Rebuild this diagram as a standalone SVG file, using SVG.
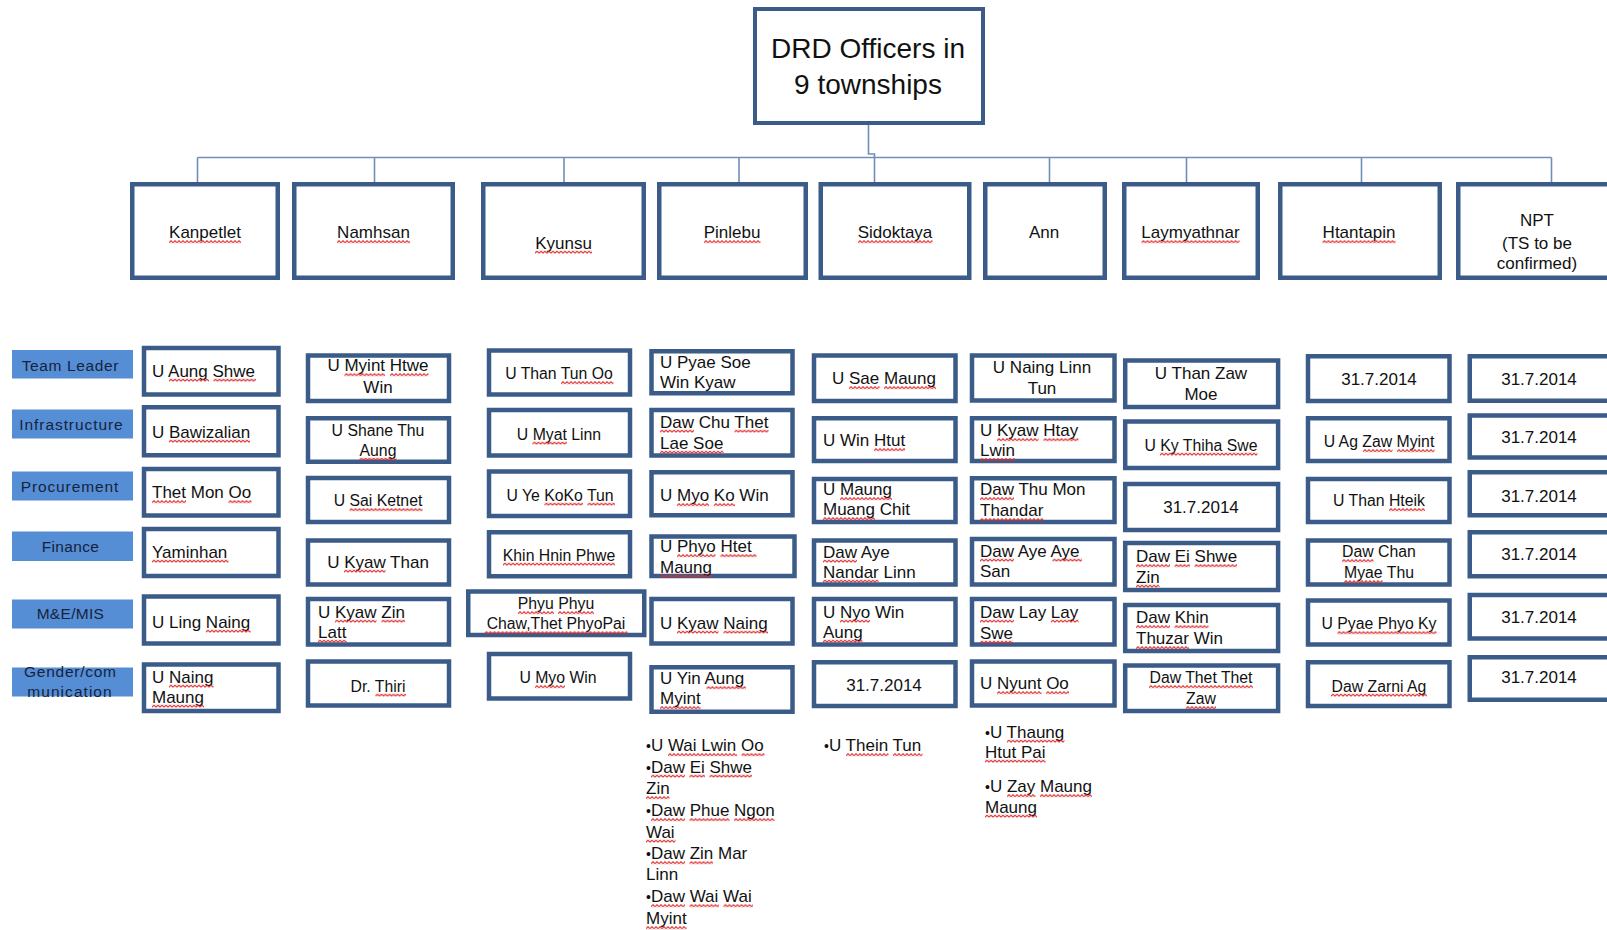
<svg xmlns="http://www.w3.org/2000/svg" width="1607" height="930" viewBox="0 0 1607 930">
<style>
.bx{fill:#fff;stroke:#3b5c88;stroke-width:4.5}
.tbx{fill:#fff;stroke:#3b5c88;stroke-width:4}
.lbl{fill:#558ed5}
.conn{fill:none;stroke:#6f8fba;stroke-width:1.6}
text{font-family:"Liberation Sans",Arial,sans-serif;fill:#111}
.tt{font-size:28px;text-anchor:middle}
.tw{font-size:17px;text-anchor:middle}
.lt{font-size:15.5px;text-anchor:middle;fill:#15233c}
.nl{font-size:17px}
.ns{font-size:15.8px}
.c{text-anchor:middle}
.bu{font-size:14px}
#squiggles rect{fill:url(#wave)}
</style>
<defs>
<pattern id="wave" patternUnits="userSpaceOnUse" width="4" height="3.4">
<path d="M0,2.7 L2,0.7 L4,2.7" fill="none" stroke="#e02a2a" stroke-width="1.1"/>
</pattern>
</defs>
<rect width="1607" height="930" fill="#fff"/>
<g id="connectors">
<path class="conn" d="M868.5,125 V154 H874.5 V182"/>
<path class="conn" d="M197.5,157.5 H1551.5"/>
<path class="conn" d="M197.5,157.5 V182 M374.5,157.5 V182 M564,157.5 V182 M739,157.5 V182 M1049.5,157.5 V182 M1186.5,157.5 V182 M1361.5,157.5 V182 M1551.5,157.5 V182"/>
</g>
<g id="title">
<rect class="tbx" x="755" y="9" width="228" height="114"/>
<text class="tt" x="868" y="58">DRD Officers in</text>
<text class="tt" x="868" y="94">9 townships</text>
</g>
<g id="ts-kanpetlet"><rect class="bx" x="132.25" y="184.25" width="145.5" height="93.5"/><text class="tw" x="205" y="238">Kanpetlet</text></g>
<g id="ts-namhsan"><rect class="bx" x="294.25" y="184.25" width="158.5" height="93.5"/><text class="tw" x="373.5" y="238">Namhsan</text></g>
<g id="ts-kyunsu"><rect class="bx" x="483.25" y="184.25" width="160.5" height="93.5"/><text class="tw" x="563.5" y="248.5">Kyunsu</text></g>
<g id="ts-pinlebu"><rect class="bx" x="659.25" y="184.25" width="146.5" height="93.5"/><text class="tw" x="732" y="238">Pinlebu</text></g>
<g id="ts-sidoktaya"><rect class="bx" x="820.75" y="184.25" width="148.5" height="93.5"/><text class="tw" x="895" y="238">Sidoktaya</text></g>
<g id="ts-ann"><rect class="bx" x="985.25" y="184.25" width="119.5" height="93.5"/><text class="tw" x="1044" y="238">Ann</text></g>
<g id="ts-laymyathnar"><rect class="bx" x="1124.25" y="184.25" width="133.5" height="93.5"/><text class="tw" x="1190.5" y="238">Laymyathnar</text></g>
<g id="ts-htantapin"><rect class="bx" x="1280.25" y="184.25" width="159.5" height="93.5"/><text class="tw" x="1359" y="238">Htantapin</text></g>
<g id="ts-npt"><rect class="bx" x="1458.25" y="184.25" width="157.5" height="93.5"/><text class="tw" x="1537" y="226">NPT</text><text class="tw" x="1537" y="248.5">(TS to be</text><text class="tw" x="1537" y="269">confirmed)</text></g>

<g id="role-team-leader"><rect class="lbl" x="12" y="350" width="121" height="28.5"/><text class="lt" x="70" y="370.5" textLength="96.7" lengthAdjust="spacing">Team Leader</text></g>
<g id="role-infrastructure"><rect class="lbl" x="12" y="409.5" width="121" height="29"/><text class="lt" x="71" y="430" textLength="103.3" lengthAdjust="spacing">Infrastructure</text></g>
<g id="role-procurement"><rect class="lbl" x="12" y="471.5" width="121" height="29"/><text class="lt" x="69.5" y="491.5" textLength="97.7" lengthAdjust="spacing">Procurement</text></g>
<g id="role-finance"><rect class="lbl" x="12" y="531.5" width="121" height="29.5"/><text class="lt" x="70.3" y="552" textLength="57.3" lengthAdjust="spacing">Finance</text></g>
<g id="role-me-mis"><rect class="lbl" x="12" y="599.5" width="121" height="29"/><text class="lt" x="70.3" y="619" textLength="67.3" lengthAdjust="spacing">M&amp;E/MIS</text></g>
<g id="role-gender"><rect class="lbl" x="12" y="667.5" width="121" height="29"/><text class="lt" x="70" y="677" textLength="92" lengthAdjust="spacing">Gender/com</text><text class="lt" x="69.5" y="697" textLength="84.3" lengthAdjust="spacing">munication</text></g>

<!-- Kanpetlet column -->
<g id="kan-1"><rect class="bx" x="144" y="348" width="134.5" height="46.5"/><text class="nl" x="152" y="376.5">U Aung Shwe</text></g>
<g id="kan-2"><rect class="bx" x="144" y="407.25" width="134.5" height="48"/><text class="nl" x="152" y="437.5">U Bawizalian</text></g>
<g id="kan-3"><rect class="bx" x="144" y="469" width="134.5" height="46.5"/><text class="nl" x="152" y="498">Thet Mon Oo</text></g>
<g id="kan-4"><rect class="bx" x="144" y="529" width="134.5" height="47"/><text class="nl" x="152" y="557.5">Yaminhan</text></g>
<g id="kan-5"><rect class="bx" x="144" y="596.5" width="134.5" height="47"/><text class="nl" x="152" y="627.5">U Ling Naing</text></g>
<g id="kan-6"><rect class="bx" x="144" y="664.5" width="134.5" height="46.5"/><text class="nl" x="152" y="682.5">U Naing</text><text class="nl" x="152" y="702.5">Maung</text></g>

<!-- Namhsan column -->
<g id="nam-1"><rect class="bx" x="308" y="355.5" width="141" height="45.5"/><text class="nl c" x="378" y="371">U Myint Htwe</text><text class="nl c" x="378" y="393">Win</text></g>
<g id="nam-2"><rect class="bx" x="308" y="418.25" width="141" height="43.5"/><text class="ns c" x="378" y="435.5">U Shane Thu</text><text class="ns c" x="378" y="455.5">Aung</text></g>
<g id="nam-3"><rect class="bx" x="308" y="478" width="141" height="44"/><text class="ns c" x="378" y="506">U Sai Ketnet</text></g>
<g id="nam-4"><rect class="bx" x="308" y="540.5" width="141" height="44"/><text class="nl c" x="378" y="567.5">U Kyaw Than</text></g>
<g id="nam-5"><rect class="bx" x="308" y="599" width="141" height="45.5"/><text class="nl" x="318" y="617.5">U Kyaw Zin</text><text class="nl" x="318" y="637.5">Latt</text></g>
<g id="nam-6"><rect class="bx" x="308" y="661.5" width="141" height="44"/><text class="ns c" x="378" y="691.5">Dr. Thiri</text></g>

<!-- Kyunsu column -->
<g id="kyu-1"><rect class="bx" x="489" y="350.5" width="141" height="44"/><text class="ns c" x="559" y="379">U Than Tun Oo</text></g>
<g id="kyu-2"><rect class="bx" x="489" y="410" width="141" height="45.5"/><text class="ns c" x="559" y="439.5">U Myat Linn</text></g>
<g id="kyu-3"><rect class="bx" x="489" y="471.5" width="141" height="44.5"/><text class="ns c" x="560" y="500.5">U Ye KoKo Tun</text></g>
<g id="kyu-4"><rect class="bx" x="489" y="532.25" width="141" height="44"/><text class="ns c" x="559" y="560.5">Khin Hnin Phwe</text></g>
<g id="kyu-5"><rect class="bx" x="468.25" y="591.5" width="176" height="43.5"/><text class="ns c" x="556" y="609">Phyu Phyu</text><text class="ns c" x="556" y="629">Chaw,Thet PhyoPai</text></g>
<g id="kyu-6"><rect class="bx" x="489" y="654" width="141" height="44.5"/><text class="ns c" x="558" y="683">U Myo Win</text></g>

<!-- Pinlebu column -->
<g id="pin-1"><rect class="bx" x="651.5" y="351.25" width="141" height="42"/><text class="nl" x="660" y="367.5">U Pyae Soe</text><text class="nl" x="660" y="387.5">Win Kyaw</text></g>
<g id="pin-2"><rect class="bx" x="651.5" y="410" width="141" height="45.5"/><text class="nl" x="660" y="427.5">Daw Chu Thet</text><text class="nl" x="660" y="448.5">Lae Soe</text></g>
<g id="pin-3"><rect class="bx" x="651.5" y="472.25" width="141" height="43"/><text class="nl" x="660" y="501">U Myo Ko Win</text></g>
<g id="pin-4"><rect class="bx" x="651.5" y="536.5" width="143" height="39.5"/><text class="nl" x="660" y="552">U Phyo Htet</text><text class="nl" x="660" y="572.5">Maung</text></g>
<g id="pin-5"><rect class="bx" x="651.5" y="599" width="141" height="44.5"/><text class="nl" x="660" y="628.5">U Kyaw Naing</text></g>
<g id="pin-6"><rect class="bx" x="651.5" y="667.25" width="141" height="44.5"/><text class="nl" x="660" y="684">U Yin Aung</text><text class="nl" x="660" y="704">Myint</text></g>

<!-- Sidoktaya column -->
<g id="sid-1"><rect class="bx" x="814" y="355.5" width="141.5" height="45.5"/><text class="nl c" x="884" y="384">U Sae Maung</text></g>
<g id="sid-2"><rect class="bx" x="814" y="418.25" width="141.5" height="42.75"/><text class="nl" x="823" y="446">U Win Htut</text></g>
<g id="sid-3"><rect class="bx" x="814" y="479" width="141.5" height="43"/><text class="nl" x="823" y="495">U Maung</text><text class="nl" x="823" y="515">Muang Chit</text></g>
<g id="sid-4"><rect class="bx" x="814" y="540.5" width="141.5" height="44"/><text class="nl" x="823" y="557.5">Daw Aye</text><text class="nl" x="823" y="577.5">Nandar Linn</text></g>
<g id="sid-5"><rect class="bx" x="814" y="599" width="141.5" height="45.5"/><text class="nl" x="823" y="617.5">U Nyo Win</text><text class="nl" x="823" y="637.5">Aung</text></g>
<g id="sid-6"><rect class="bx" x="814" y="662.25" width="141.5" height="43.75"/><text class="nl c" x="884" y="691">31.7.2014</text></g>

<!-- Ann column -->
<g id="ann-1"><rect class="bx" x="972" y="355.5" width="142.5" height="45"/><text class="nl c" x="1042" y="372.5">U Naing Linn</text><text class="nl c" x="1042" y="394">Tun</text></g>
<g id="ann-2"><rect class="bx" x="972" y="418.25" width="142.5" height="42.75"/><text class="nl" x="980" y="436">U Kyaw Htay</text><text class="nl" x="980" y="456">Lwin</text></g>
<g id="ann-3"><rect class="bx" x="972" y="478.25" width="142.5" height="43.75"/><text class="nl" x="980" y="495">Daw Thu Mon</text><text class="nl" x="980" y="516">Thandar</text></g>
<g id="ann-4"><rect class="bx" x="972" y="539" width="142.5" height="45.5"/><text class="nl" x="980" y="556.5">Daw Aye Aye</text><text class="nl" x="980" y="576.5">San</text></g>
<g id="ann-5"><rect class="bx" x="972" y="599" width="142.5" height="45.5"/><text class="nl" x="980" y="617.5">Daw Lay Lay</text><text class="nl" x="980" y="638.5">Swe</text></g>
<g id="ann-6"><rect class="bx" x="972" y="661.5" width="142.5" height="44"/><text class="nl" x="980" y="689">U Nyunt Oo</text></g>

<!-- Laymyathnar column -->
<g id="lay-1"><rect class="bx" x="1125.2" y="360.5" width="152.9" height="46.5"/><text class="nl c" x="1201" y="378.5">U Than Zaw</text><text class="nl c" x="1201" y="400">Moe</text></g>
<g id="lay-2"><rect class="bx" x="1125.2" y="421.5" width="152.9" height="46.5"/><text class="ns c" x="1201" y="450.5">U Ky Thiha Swe</text></g>
<g id="lay-3"><rect class="bx" x="1125.2" y="484" width="152.9" height="46"/><text class="nl c" x="1201" y="512.5">31.7.2014</text></g>
<g id="lay-4"><rect class="bx" x="1125.2" y="543" width="152.9" height="47"/><text class="nl" x="1136" y="562">Daw Ei Shwe</text><text class="nl" x="1136" y="582.5">Zin</text></g>
<g id="lay-5"><rect class="bx" x="1125.2" y="605" width="152.9" height="46"/><text class="nl" x="1136" y="623">Daw Khin</text><text class="nl" x="1136" y="644">Thuzar Win</text></g>
<g id="lay-6"><rect class="bx" x="1125.2" y="665.5" width="152.9" height="45.5"/><text class="ns c" x="1201" y="683">Daw Thet Thet</text><text class="ns c" x="1201" y="704">Zaw</text></g>

<!-- Htantapin column -->
<g id="hta-1"><rect class="bx" x="1308" y="356.25" width="141.5" height="44.75"/><text class="nl c" x="1379" y="385">31.7.2014</text></g>
<g id="hta-2"><rect class="bx" x="1308" y="418.25" width="141.5" height="42.75"/><text class="ns c" x="1379" y="447">U Ag Zaw Myint</text></g>
<g id="hta-3"><rect class="bx" x="1308" y="479" width="141.5" height="43"/><text class="ns c" x="1379" y="506">U Than Hteik</text></g>
<g id="hta-4"><rect class="bx" x="1308" y="540.5" width="141.5" height="44"/><text class="ns c" x="1379" y="557">Daw Chan</text><text class="ns c" x="1379" y="578">Myae Thu</text></g>
<g id="hta-5"><rect class="bx" x="1308" y="600.5" width="141.5" height="44"/><text class="ns c" x="1379" y="629">U Pyae Phyo Ky</text></g>
<g id="hta-6"><rect class="bx" x="1308" y="662.25" width="141.5" height="43.75"/><text class="ns c" x="1379" y="691.5">Daw Zarni Ag</text></g>

<!-- NPT column -->
<g id="npt-1"><rect class="bx" x="1469.75" y="356.25" width="150" height="44.5"/><text class="nl c" x="1539" y="385">31.7.2014</text></g>
<g id="npt-2"><rect class="bx" x="1469.75" y="415.5" width="150" height="42"/><text class="nl c" x="1539" y="443">31.7.2014</text></g>
<g id="npt-3"><rect class="bx" x="1469.75" y="472.25" width="150" height="43"/><text class="nl c" x="1539" y="501.5">31.7.2014</text></g>
<g id="npt-4"><rect class="bx" x="1469.75" y="532.25" width="150" height="44"/><text class="nl c" x="1539" y="560">31.7.2014</text></g>
<g id="npt-5"><rect class="bx" x="1469.75" y="595" width="150" height="43.5"/><text class="nl c" x="1539" y="622.5">31.7.2014</text></g>
<g id="npt-6"><rect class="bx" x="1469.75" y="657.25" width="150" height="42.5"/><text class="nl c" x="1539" y="682.5">31.7.2014</text></g>

<!-- Extra lists -->
<g id="list-pinlebu">
<text class="nl" x="646" y="751"><tspan class="bu">•</tspan>U Wai Lwin Oo</text>
<text class="nl" x="646" y="772.5"><tspan class="bu">•</tspan>Daw Ei Shwe</text>
<text class="nl" x="646" y="794">Zin</text>
<text class="nl" x="646" y="816"><tspan class="bu">•</tspan>Daw Phue Ngon</text>
<text class="nl" x="646" y="837.5">Wai</text>
<text class="nl" x="646" y="859"><tspan class="bu">•</tspan>Daw Zin Mar</text>
<text class="nl" x="646" y="880">Linn</text>
<text class="nl" x="646" y="902"><tspan class="bu">•</tspan>Daw Wai Wai</text>
<text class="nl" x="646" y="924">Myint</text>
</g>
<g id="list-sidoktaya">
<text class="nl" x="824" y="751"><tspan class="bu">•</tspan>U Thein Tun</text>
</g>
<g id="list-ann">
<text class="nl" x="985" y="737.5"><tspan class="bu">•</tspan>U Thaung</text>
<text class="nl" x="985" y="757.5">Htut Pai</text>
<text class="nl" x="985" y="792"><tspan class="bu">•</tspan>U Zay Maung</text>
<text class="nl" x="985" y="812.5">Maung</text>
</g>

<g id="squiggles">
<rect transform="translate(169,240)" width="72" height="3.4"/>
<rect transform="translate(337,240)" width="73" height="3.4"/>
<rect transform="translate(535,250.5)" width="57" height="3.4"/>
<rect transform="translate(704,240)" width="56.5" height="3.4"/>
<rect transform="translate(858,240)" width="74.5" height="3.4"/>
<rect transform="translate(1141.5,240)" width="98" height="3.4"/>
<rect transform="translate(1322.5,240)" width="73" height="3.4"/>

<rect transform="translate(169,378.5)" width="40" height="3.4"/>
<rect transform="translate(213.5,378.5)" width="42.5" height="3.4"/>
<rect transform="translate(169,439.5)" width="81" height="3.4"/>
<rect transform="translate(152,500)" width="34" height="3.4"/>
<rect transform="translate(228.5,500)" width="23" height="3.4"/>
<rect transform="translate(152,559.5)" width="76.5" height="3.4"/>
<rect transform="translate(206,629.5)" width="44.5" height="3.4"/>
<rect transform="translate(169,684.5)" width="44.5" height="3.4"/>
<rect transform="translate(152,704.5)" width="52" height="3.4"/>

<rect transform="translate(344.5,373)" width="40.5" height="3.4"/>
<rect transform="translate(390,373)" width="38.5" height="3.4"/>
<rect transform="translate(359.5,457.5)" width="37" height="3.4"/>
<rect transform="translate(349.5,508)" width="73" height="3.4"/>
<rect transform="translate(344,569.5)" width="41.5" height="3.4"/>
<rect transform="translate(335,619.5)" width="41.5" height="3.4"/>
<rect transform="translate(381.5,619.5)" width="23.5" height="3.4"/>
<rect transform="translate(318,639.5)" width="28.5" height="3.4"/>
<rect transform="translate(375.5,693.5)" width="30.5" height="3.4"/>

<rect transform="translate(561,381)" width="52.5" height="3.4"/>
<rect transform="translate(532.5,441.5)" width="34.5" height="3.4"/>
<rect transform="translate(544.5,502.5)" width="38.5" height="3.4"/>
<rect transform="translate(587.5,502.5)" width="27.5" height="3.4"/>
<rect transform="translate(503,562.5)" width="112" height="3.4"/>
<rect transform="translate(518,611)" width="36" height="3.4"/>
<rect transform="translate(558,611)" width="36" height="3.4"/>
<rect transform="translate(484.5,631)" width="143" height="3.4"/>
<rect transform="translate(535,685)" width="30" height="3.4"/>

<rect transform="translate(660,429.5)" width="34" height="3.4"/>
<rect transform="translate(734.5,429.5)" width="34" height="3.4"/>
<rect transform="translate(660,450.5)" width="63.5" height="3.4"/>
<rect transform="translate(677,503)" width="32" height="3.4"/>
<rect transform="translate(714,503)" width="21" height="3.4"/>
<rect transform="translate(677,554)" width="38.5" height="3.4"/>
<rect transform="translate(720.5,554)" width="36" height="3.4"/>
<rect transform="translate(660,574.5)" width="52" height="3.4"/>
<rect transform="translate(677,630.5)" width="41.5" height="3.4"/>
<rect transform="translate(723.5,630.5)" width="44.5" height="3.4"/>
<rect transform="translate(706.5,686)" width="39.5" height="3.4"/>
<rect transform="translate(660,706)" width="40.5" height="3.4"/>

<rect transform="translate(849,386)" width="30.5" height="3.4"/>
<rect transform="translate(884,386)" width="52" height="3.4"/>
<rect transform="translate(874,448)" width="31" height="3.4"/>
<rect transform="translate(840,497)" width="52" height="3.4"/>
<rect transform="translate(823,517)" width="52" height="3.4"/>
<rect transform="translate(823,559.5)" width="34" height="3.4"/>
<rect transform="translate(823,579.5)" width="55.5" height="3.4"/>
<rect transform="translate(840,619.5)" width="30" height="3.4"/>
<rect transform="translate(823,639.5)" width="39.5" height="3.4"/>

<rect transform="translate(997,438)" width="41.5" height="3.4"/>
<rect transform="translate(1043.5,438)" width="35" height="3.4"/>
<rect transform="translate(980,458)" width="35" height="3.4"/>
<rect transform="translate(980,497)" width="34" height="3.4"/>
<rect transform="translate(980,518)" width="63.5" height="3.4"/>
<rect transform="translate(980,558.5)" width="34" height="3.4"/>
<rect transform="translate(1052.5,558.5)" width="29.5" height="3.4"/>
<rect transform="translate(980,619.5)" width="34" height="3.4"/>
<rect transform="translate(1051,619.5)" width="27.5" height="3.4"/>
<rect transform="translate(980,640.5)" width="33" height="3.4"/>
<rect transform="translate(997,691)" width="44.5" height="3.4"/>
<rect transform="translate(1046,691)" width="23" height="3.4"/>

<rect transform="translate(1160,452.5)" width="97.5" height="3.4"/>
<rect transform="translate(1136,564)" width="34" height="3.4"/>
<rect transform="translate(1174.5,564)" width="15.5" height="3.4"/>
<rect transform="translate(1194.5,564)" width="42.5" height="3.4"/>
<rect transform="translate(1136,584.5)" width="23.5" height="3.4"/>
<rect transform="translate(1136,625)" width="34" height="3.4"/>
<rect transform="translate(1174.5,625)" width="34" height="3.4"/>
<rect transform="translate(1136,646)" width="53" height="3.4"/>
<rect transform="translate(1149,685)" width="104" height="3.4"/>
<rect transform="translate(1186,706)" width="30" height="3.4"/>

<rect transform="translate(1363,449)" width="29.5" height="3.4"/>
<rect transform="translate(1397,449)" width="37.5" height="3.4"/>
<rect transform="translate(1389,508)" width="36" height="3.4"/>
<rect transform="translate(1342,559)" width="31.5" height="3.4"/>
<rect transform="translate(1344,580)" width="38.5" height="3.4"/>
<rect transform="translate(1337.5,631)" width="99" height="3.4"/>
<rect transform="translate(1331,693.5)" width="96" height="3.4"/>

<rect transform="translate(668,753)" width="69" height="3.4"/>
<rect transform="translate(741.5,753)" width="23" height="3.4"/>
<rect transform="translate(651,774.5)" width="34" height="3.4"/>
<rect transform="translate(689.5,774.5)" width="15.5" height="3.4"/>
<rect transform="translate(709.5,774.5)" width="42.5" height="3.4"/>
<rect transform="translate(646,796)" width="23.5" height="3.4"/>
<rect transform="translate(651,818)" width="34" height="3.4"/>
<rect transform="translate(689.5,818)" width="40" height="3.4"/>
<rect transform="translate(734,818)" width="40.5" height="3.4"/>
<rect transform="translate(646,839.5)" width="29.5" height="3.4"/>
<rect transform="translate(651,861)" width="34" height="3.4"/>
<rect transform="translate(689.5,861)" width="23.5" height="3.4"/>
<rect transform="translate(651,904)" width="34" height="3.4"/>
<rect transform="translate(689.5,904)" width="29.5" height="3.4"/>
<rect transform="translate(723.5,904)" width="29.5" height="3.4"/>
<rect transform="translate(646,926)" width="40.5" height="3.4"/>
<rect transform="translate(846,753)" width="42.5" height="3.4"/>
<rect transform="translate(893,753)" width="29.5" height="3.4"/>
<rect transform="translate(1007,739.5)" width="57.5" height="3.4"/>
<rect transform="translate(985,759.5)" width="60.5" height="3.4"/>
<rect transform="translate(1007,794)" width="28.5" height="3.4"/>
<rect transform="translate(1040,794)" width="52" height="3.4"/>
<rect transform="translate(985,814.5)" width="52" height="3.4"/>
</g>
</svg>
